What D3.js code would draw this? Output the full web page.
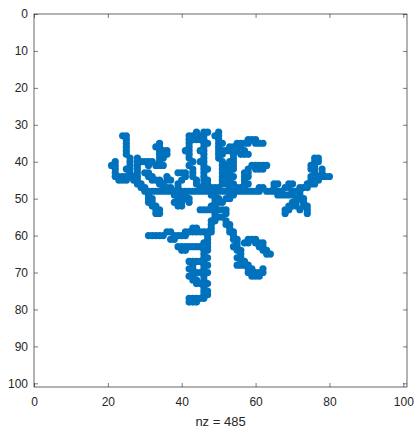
<!DOCTYPE html>
<html lang="en">
<head>
    <meta charset="UTF-8">
    <title>spy plot</title>
    <style>
        body { margin: 0; background: #fff; }
        text { font-family: "Liberation Sans", Arial, sans-serif; }
    </style>
</head>
<body>

<script src="https://d3js.org/d3.v7.min.js"></script>

<div id="my_dataviz"></div>

<script>
    // nonzero entries of the matrix, [column, row], grouped by branch
    const spurLeft = [[24,33],[25,33],[25,34],[25,35],[25,36],[25,37],[25,38],[26,39],[26,40],[26,41],[25,42],[26,42],[26,43],[26,44],[27,44]];
    const leftHook = [[21,41],[22,40],[22,41],[22,42],[22,43],[22,44],[23,44],[23,45],[24,45],[25,45],[25,44],[24,44]];
    const leftLink = [[27,45],[28,45],[28,46],[29,46],[29,47],[30,47]];
    const spur28 = [[28,39],[28,40],[28,41],[28,42],[28,43],[28,44],[29,40],[30,40],[31,40],[31,41],[32,40],[33,41],[34,41],[35,41]];
    const spur34 = [[34,35],[34,36],[33,36],[34,37],[35,37],[34,38],[34,39],[35,39],[34,40],[36,37],[36,38]];
    const diag = [[30,43],[31,43],[31,44],[32,44],[32,45],[33,45],[34,45],[34,46],[35,46],[35,47],[36,47],[37,47],[38,49],[39,49],[40,49],[40,50],[36,44],[36,45],[37,45]];
    const leftDown = [[31,49],[31,50],[32,50],[32,51],[31,51],[32,52],[33,52],[33,53],[34,53],[34,54],[33,54]];
    const mainLeft = [[30,48],[31,48],[32,48],[33,48],[34,48],[35,48],[36,48],[37,48],[38,48],[39,48],[40,48],[41,48],[42,48],[43,48],[44,48],[45,48],[46,48],[47,48]];
    const below40 = [[39,50],[39,51],[38,51],[40,51],[40,52],[39,52],[41,49],[41,50],[42,50],[42,51]];
    const col42 = [[42,34],[42,35],[42,36],[41,37],[42,37],[42,38],[42,39],[43,40],[42,41],[43,42],[43,43],[43,44],[44,45],[44,46],[45,47],
                   [39,43],[40,43],[41,43],[41,44],[40,45],[39,46],[39,47]];
    const trunkTop = [[46,32],[47,32],[46,33],[46,34],[46,35],[47,35],[46,36],[46,37],[45,37],[46,38],[46,39],[45,40],[46,40],[46,41],[46,42],[47,42],[46,43],[46,44],[46,45],[47,45],[46,46],[47,46],[47,47]];
    const topLeft = [[42,33],[43,33],[43,34],[44,34],[45,34],[45,33],[44,32]];
    const col50 = [[50,32],[50,33],[49,33],[50,34],[50,35],[51,35],[50,36],[50,37],[50,38],[51,38],[50,39],[51,40],[51,41],[52,41],[51,42],[51,43],[52,43],[51,44],[51,45],[52,45],[51,46],[50,47],[49,47],[48,47]];
    const trunkMid = [[48,48],[48,49],[49,49],[49,50],[50,50],[49,51],[50,51],[51,51],[52,50],[53,50],[53,49],[54,49],[49,52],[48,52],[47,53],[46,53],[45,53],[48,53],[49,53],[50,53],[51,53],[52,53],[52,54],[49,54],[49,55],[50,55],[48,56],[49,56],[48,57],[48,58],[47,59],[48,59]];
    const row59 = [[46,59],[45,59],[44,59],[43,59],[42,59],[41,59],[41,60],[40,60],[39,60],[38,60],[37,59],[36,59],[35,60],[34,60],[33,60],[32,60],[31,60],[38,61],[37,61],[44,58],[43,58]];
    const trunkLow = [[47,60],[47,61],[47,62],[46,62],[47,63],[46,64],[47,64],[46,65],[46,66],[47,66],[46,67],[46,68],[47,68],[46,69],[46,70],[47,70],[46,71],[46,72],[47,73],[46,73],[46,74],[46,75],[47,75],[47,76],[46,76],[46,77],[45,77],[44,77],[43,77],[44,78],[43,78],[42,78],[42,77]];
    const row63 = [[45,63],[44,63],[43,63],[42,63],[41,63],[40,63],[40,64],[39,63],[41,64]];
    const comb = [[45,67],[44,67],[43,67],[42,67],[43,68],[43,69],[42,69],[43,70],[44,70],[45,70],[42,71],[43,71],[43,72],[44,72],[44,73],[45,73]];
    const rightDown = [[51,55],[52,56],[52,57],[53,57],[53,58],[53,59],[54,59],[54,60],[54,61],[55,61],[55,62],[54,63],[55,63],[55,64],[56,64],[56,65],[56,66],[55,66],[56,67],[56,68],[55,68],
                       [57,62],[58,62],[58,61],[59,61],[60,62],[60,61],[61,62],[61,63],[62,63],[62,64],[63,64],[63,65],[64,65],[62,62]];
    const lowCluster = [[57,67],[57,68],[58,68],[58,69],[59,69],[59,70],[60,70],[60,71],[61,71],[61,70],[62,70],[62,69],[58,70],[59,71]];
    const topRight = [[51,37],[52,37],[53,36],[53,37],[54,36],[55,36],[55,35],[56,35],[57,35],[58,35],[58,34],[59,34],[60,34],[60,35],[61,35],[62,35],[56,36],[57,37],[57,38],[56,38],[58,38],[55,37]];
    const col54 = [[54,38],[54,39],[54,40],[53,40],[54,41],[53,42],[54,42],[53,43],[53,44],[54,44],[53,45],[52,46],[53,46],[54,46],[55,47],[56,47],[53,47]];
    const spur58 = [[63,41],[62,41],[61,41],[60,41],[60,42],[59,41],[58,42],[58,43],[57,43],[57,44],[58,44],[57,45],[57,46],[58,46],[57,47],[61,42],[62,42]];
    const mainRight = [[50,48],[51,48],[52,48],[53,48],[54,48],[55,48],[56,48],[57,48],[58,48],[59,48],[60,48],[61,48],[61,47],[62,47],[63,48],[64,48],[65,48],[66,48],[66,49],[67,49],[68,49],[69,49],[70,49],[70,48],[71,48],[72,48],[72,47],[73,47],[74,47],[74,46],[75,46],[76,46],[76,45],[77,45],[77,44],[78,44],[79,44],[80,44],
                       [69,46],[69,47],[70,46],[68,47],[67,48],[65,47],[65,46],[66,46]];
    const rightArm = [[75,45],[75,44],[76,43],[75,42],[76,42],[75,41],[76,41],[76,40],[76,39],[77,39],[77,40],[78,43],[78,42]];
    const rightSpur = [[72,49],[72,50],[73,50],[73,51],[73,52],[74,52],[74,53],[74,54],[71,50],[71,51],[70,51],[70,52],[69,52],[69,53],[68,53],[68,54],[71,52],[72,53]];

    const branches = [spurLeft, leftHook, leftLink, spur28, spur34, diag, leftDown, mainLeft, below40, col42,
                      trunkTop, topLeft, col50, trunkMid, row59, trunkLow, row63, comb, rightDown, lowCluster,
                      topRight, col54, spur58, mainRight, rightArm, rightSpur];

    const xTicks = [0, 20, 40, 60, 80, 100];
    const yTicks = [0, 10, 20, 30, 40, 50, 60, 70, 80, 90, 100];
    const n = 100;

    // unique nonzeros
    const seen = new Set();
    const nz = [];
    branches.flat().forEach(p => {
        const k = p[0] + ":" + p[1];
        if (!seen.has(k)) { seen.add(k); nz.push(p); }
    });

    const width = 417, height = 430;
    const mLeft = 34, mTop = 14, side = 373;

    const svg = d3.select("#my_dataviz")
      .append("svg")
        .attr("width", width)
        .attr("height", height);

    const x = d3.scaleLinear().domain([0, n + 1]).range([mLeft, mLeft + side]);
    const y = d3.scaleLinear().domain([0, n + 1]).range([mTop, mTop + side]);

    const axisColor = "#262626";

    // points
    svg.append("g")
      .selectAll("circle")
      .data(nz)
      .join("circle")
        .attr("cx", d => x(d[0]))
        .attr("cy", d => y(d[1]))
        .attr("r", 3.6)
        .style("fill", "#0072BD");

    // axes, ticks pointing inward
    const styleAxis = g => {
        g.select(".domain").remove();
        g.selectAll(".tick line").attr("stroke", axisColor).attr("stroke-width", 0.6);
        g.selectAll(".tick text").attr("fill", axisColor).style("font-size", "12px")
          .style("font-family", "'Liberation Sans', Arial, sans-serif");
    };

    svg.append("g")
      .attr("transform", `translate(0,${mTop + side})`)
      .call(d3.axisBottom(x).tickValues(xTicks).tickSizeInner(-4).tickSizeOuter(0).tickPadding(10))
      .call(styleAxis);

    svg.append("g")
      .attr("transform", `translate(0,${mTop})`)
      .call(d3.axisTop(x).tickValues(xTicks).tickSizeInner(-4).tickSizeOuter(0).tickFormat(""))
      .call(styleAxis);

    svg.append("g")
      .attr("transform", `translate(${mLeft},0)`)
      .call(d3.axisLeft(y).tickValues(yTicks).tickSizeInner(-4).tickSizeOuter(0).tickPadding(6))
      .call(styleAxis);

    svg.append("g")
      .attr("transform", `translate(${mLeft + side},0)`)
      .call(d3.axisRight(y).tickValues(yTicks).tickSizeInner(-4).tickSizeOuter(0).tickFormat(""))
      .call(styleAxis);

    // box
    svg.append("rect")
      .attr("x", mLeft)
      .attr("y", mTop)
      .attr("width", side)
      .attr("height", side)
      .attr("fill", "none")
      .attr("stroke", axisColor)
      .attr("stroke-width", 0.7);

    // x label
    svg.append("text")
      .attr("x", mLeft + side / 2)
      .attr("y", 426)
      .attr("text-anchor", "middle")
      .attr("fill", axisColor)
      .style("font-size", "13px")
      .text(`nz = ${nz.length}`);
</script>

</body>
</html>
